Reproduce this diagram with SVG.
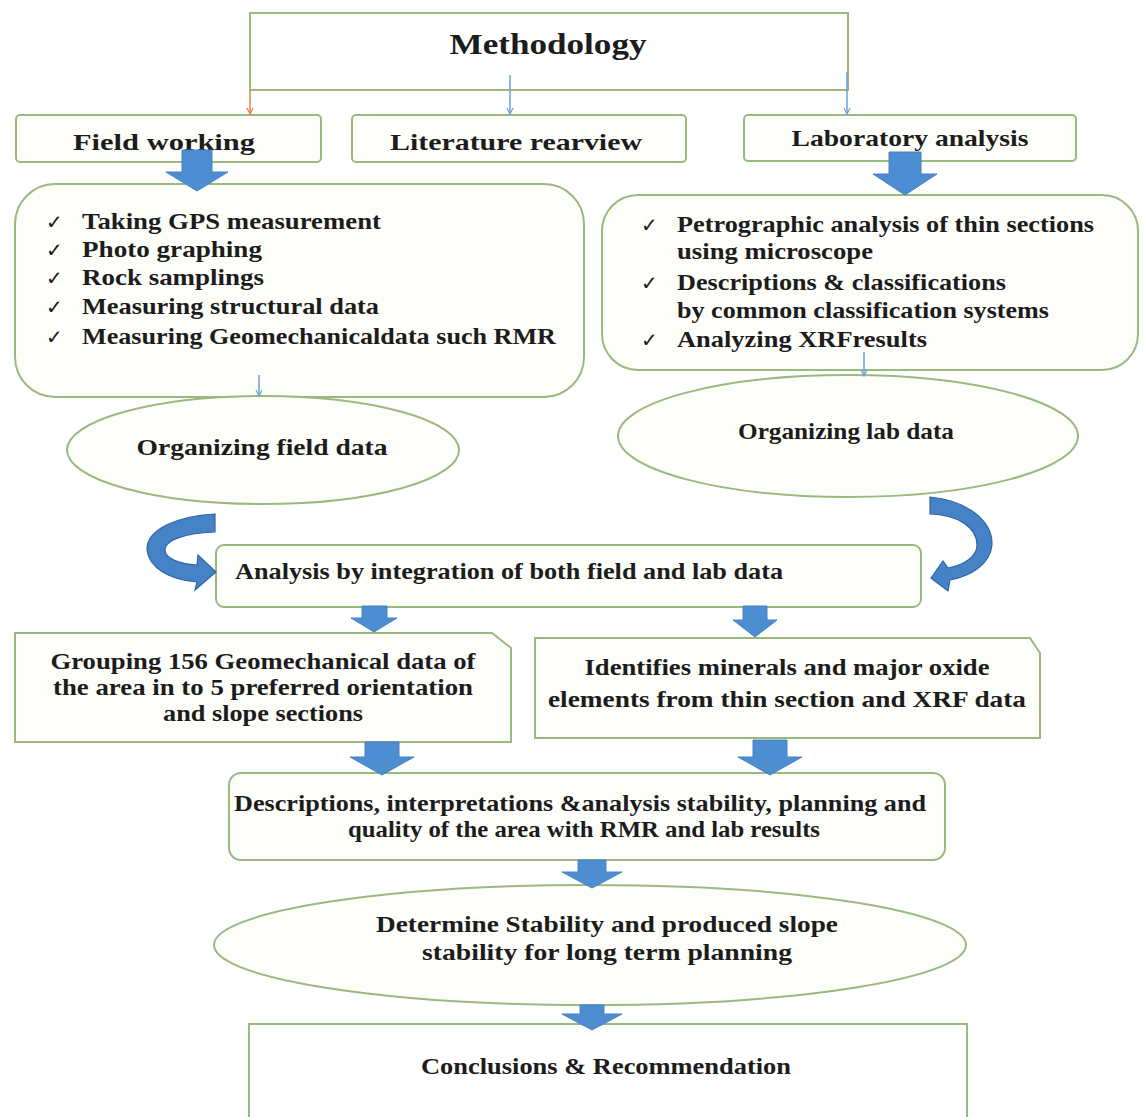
<svg xmlns="http://www.w3.org/2000/svg" width="1144" height="1117" viewBox="0 0 1144 1117">
<style>
.box{fill:#fdfefa;stroke:#9ab97e;stroke-width:2}
.t{font-family:"Liberation Serif","Times New Roman",serif;font-weight:bold;font-size:23px;fill:#1c1c1c}
.c{text-anchor:middle}
.ck{font-family:"DejaVu Sans",sans-serif;font-size:20px;fill:#1c1c1c}
.blk{fill:#4d8dd1;stroke:#4682c4;stroke-width:1}
.crv{fill:#4683c6;stroke:#2f66a6;stroke-width:1.2}
.thinB{stroke:#6f9fd6;stroke-width:1.5;fill:none}
.thinO{stroke:#e5803c;stroke-width:1.5;fill:none}
</style>
<defs>
<marker id="aB" markerWidth="8" markerHeight="8" refX="4" refY="7" markerUnits="userSpaceOnUse" viewBox="0 0 8 8"><path d="M1,1 L4,7 L7,1" fill="none" stroke="#6f9fd6" stroke-width="1.2"/></marker>
<marker id="aO" markerWidth="8" markerHeight="8" refX="4" refY="7" markerUnits="userSpaceOnUse" viewBox="0 0 8 8"><path d="M1,1 L4,7 L7,1" fill="none" stroke="#e5803c" stroke-width="1.2"/></marker>
</defs>
<rect width="1144" height="1117" fill="#ffffff"/>

<g id="methodology">
<rect class="box" x="250" y="13" width="598" height="77" style="fill:#ffffff"/>
<text class="t c" x="548" y="54" style="font-size:30px" textLength="197" lengthAdjust="spacingAndGlyphs">Methodology</text>
</g>

<g id="field-working">
<rect class="box" x="16" y="115" width="305" height="47" rx="4"/>
<text class="t c" x="164" y="150" textLength="182" lengthAdjust="spacingAndGlyphs">Field working</text>
</g>
<g id="literature-rearview">
<rect class="box" x="352" y="115" width="334" height="47" rx="4"/>
<text class="t c" x="516" y="150" textLength="252" lengthAdjust="spacingAndGlyphs">Literature rearview</text>
</g>
<g id="laboratory-analysis">
<rect class="box" x="744" y="115" width="332" height="46" rx="4"/>
<text class="t c" x="910" y="146" textLength="237" lengthAdjust="spacingAndGlyphs">Laboratory analysis</text>
</g>

<g id="field-tasks">
<rect class="box" x="15" y="184" width="569" height="213" rx="40"/>
<text class="ck" x="46" y="229">✓</text>
<text class="ck" x="46" y="257">✓</text>
<text class="ck" x="46" y="285">✓</text>
<text class="ck" x="46" y="314">✓</text>
<text class="ck" x="46" y="344">✓</text>
<text class="t" x="82" y="229" textLength="299" lengthAdjust="spacingAndGlyphs">Taking GPS measurement</text>
<text class="t" x="82" y="257" textLength="180" lengthAdjust="spacingAndGlyphs">Photo graphing</text>
<text class="t" x="82" y="285" textLength="182" lengthAdjust="spacingAndGlyphs">Rock samplings</text>
<text class="t" x="82" y="314" textLength="297" lengthAdjust="spacingAndGlyphs">Measuring structural data</text>
<text class="t" x="82" y="344" textLength="474" lengthAdjust="spacingAndGlyphs">Measuring Geomechanicaldata such RMR</text>
</g>

<g id="lab-tasks">
<rect class="box" x="602" y="195" width="536" height="175" rx="36"/>
<text class="ck" x="641" y="232">✓</text>
<text class="ck" x="641" y="290">✓</text>
<text class="ck" x="641" y="347">✓</text>
<text class="t" x="677" y="232" textLength="417" lengthAdjust="spacingAndGlyphs">Petrographic analysis of thin sections</text>
<text class="t" x="677" y="259" textLength="196" lengthAdjust="spacingAndGlyphs">using microscope</text>
<text class="t" x="677" y="290" textLength="329" lengthAdjust="spacingAndGlyphs">Descriptions &amp; classifications</text>
<text class="t" x="677" y="318" textLength="372" lengthAdjust="spacingAndGlyphs">by common classification systems</text>
<text class="t" x="677" y="347" textLength="250" lengthAdjust="spacingAndGlyphs">Analyzing XRFresults</text>
</g>

<g id="organizing-field-data">
<ellipse class="box" cx="263" cy="450" rx="196" ry="54"/>
<text class="t c" x="262" y="455" textLength="251" lengthAdjust="spacingAndGlyphs">Organizing field data</text>
</g>
<g id="organizing-lab-data">
<ellipse class="box" cx="848" cy="436" rx="230" ry="61"/>
<text class="t c" x="846" y="439" textLength="216" lengthAdjust="spacingAndGlyphs">Organizing lab data</text>
</g>

<g id="analysis">
<rect class="box" x="216" y="545" width="705" height="62" rx="8"/>
<text class="t" x="235" y="579" textLength="548" lengthAdjust="spacingAndGlyphs">Analysis by integration of both field and lab data</text>
</g>

<g id="grouping">
<path class="box" d="M15,633 H492 L511,648 V742 H15 Z"/>
<text class="t c" x="263" y="669" textLength="425" lengthAdjust="spacingAndGlyphs">Grouping 156 Geomechanical data of</text>
<text class="t c" x="263" y="695" textLength="420" lengthAdjust="spacingAndGlyphs">the area in to 5 preferred orientation</text>
<text class="t c" x="263" y="721" textLength="200" lengthAdjust="spacingAndGlyphs">and slope sections</text>
</g>
<g id="identifies">
<path class="box" d="M535,638 H1030 L1040,653 V738 H535 Z"/>
<text class="t c" x="787" y="675" textLength="405" lengthAdjust="spacingAndGlyphs">Identifies minerals and major oxide</text>
<text class="t c" x="787" y="707" textLength="478" lengthAdjust="spacingAndGlyphs">elements from thin section and XRF data</text>
</g>

<g id="descriptions">
<rect class="box" x="229" y="773" width="716" height="87" rx="12"/>
<text class="t c" x="580" y="811" textLength="692" lengthAdjust="spacingAndGlyphs">Descriptions, interpretations &amp;analysis stability, planning and</text>
<text class="t c" x="584" y="837" textLength="472" lengthAdjust="spacingAndGlyphs">quality of the area with RMR and lab results</text>
</g>

<g id="determine">
<ellipse class="box" cx="590" cy="945" rx="376" ry="60"/>
<text class="t c" x="607" y="932" textLength="462" lengthAdjust="spacingAndGlyphs">Determine Stability and produced slope</text>
<text class="t c" x="607" y="960" textLength="370" lengthAdjust="spacingAndGlyphs">stability for long term planning</text>
</g>

<g id="conclusions">
<rect class="box" x="249" y="1024" width="718" height="110" style="fill:#ffffff"/>
<text class="t c" x="606" y="1074" textLength="370" lengthAdjust="spacingAndGlyphs">Conclusions &amp; Recommendation</text>
</g>

<g id="connectors">
<line class="thinO" x1="250" y1="90" x2="250" y2="114" marker-end="url(#aO)"/>
<line class="thinB" x1="510" y1="75" x2="510" y2="114" marker-end="url(#aB)"/>
<line class="thinB" x1="847" y1="72" x2="847" y2="114" marker-end="url(#aB)"/>
<line class="thinB" x1="259" y1="375" x2="259" y2="396" marker-end="url(#aB)"/>
<line class="thinB" x1="864" y1="352" x2="864" y2="376" marker-end="url(#aB)"/>

<path class="blk" d="M182,150 H212 V172 H228 L197,191 L166,172 H182 Z"/>
<path class="blk" d="M889,152 H921 V174 H937 L905,195 L873,174 H889 Z"/>
<path class="blk" d="M362,606 H387 V618 H397 L374,632 L351,618 H362 Z"/>
<path class="blk" d="M743,606 H767 V620 H777 L755,637 L733,620 H743 Z"/>
<path class="blk" d="M365,742 H399 V757 H414 L382,775 L350,757 H365 Z"/>
<path class="blk" d="M753,740 H787 V757 H802 L770,775 L738,757 H753 Z"/>
<path class="blk" d="M578,860 H606 V872 H622 L592,888 L562,872 H578 Z"/>
<path class="blk" d="M580,1005 H604 V1014 H622 L592,1030 L562,1014 H580 Z"/>

<path class="crv" d="M215,514 C176,516 146,530 147,550 C149,568 170,580 197,582 L195,590 L216,572 L198,555 L197,565 C178,564 165,558 165,550 C165,540 185,533 215,532 Z"/>
<path class="crv" d="M930,497 C965,500 993,520 992,545 C990,565 970,576 950,580 L948,591 L931,578 L943,561 L948,568 C965,565 977,556 977,545 C977,527 958,515 930,514 Z"/>
</g>
</svg>
